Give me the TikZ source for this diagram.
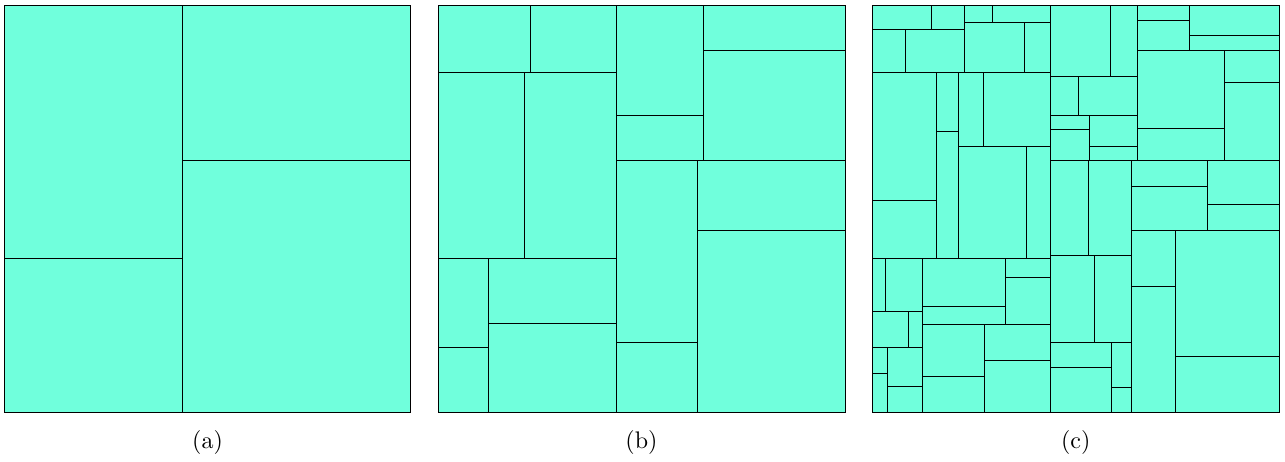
\documentclass[tikz,border=0pt]{standalone}
\usepackage{fontspec}
\newfontfamily\capfont{lmroman10-regular}[Extension=.otf]
\definecolor{aqua}{RGB}{112,255,220}
\tikzset{
  panel/.style={fill=aqua,draw=black,line width=0.8pt},
  cut/.style={draw=black,line width=0.8pt,line cap=rect},
  capstyle/.style={anchor=base,inner sep=0pt,font=\capfont\fontsize{24}{29}\selectfont}
}
\begin{document}
\begin{tikzpicture}[x=1pt,y=-1pt]
\useasboundingbox (0,0) rectangle (1285,461);
% ---------- panel (a)
\path[panel] (4.3,5.7) rectangle (410.7,412.5);
\draw[cut] (182.3,5.7)--(182.3,412.5);
\draw[cut] (4.3,258.3)--(182.3,258.3);
\draw[cut] (182.3,160)--(410.7,160);
% ---------- panel (b)
\path[panel] (438,5.7) rectangle (845,412.5);
\draw[cut] (616.7,5.7)--(616.7,412.5);
\draw[cut] (438,72.3)--(616.7,72.3);
\draw[cut] (530.3,5.7)--(530.3,72.3);
\draw[cut] (524.3,72.3)--(524.3,258.3);
\draw[cut] (438,258.3)--(616.7,258.3);
\draw[cut] (488,258.3)--(488,412.5);
\draw[cut] (438,347)--(488,347);
\draw[cut] (488,323.7)--(616.7,323.7);
\draw[cut] (616.7,160)--(845,160);
\draw[cut] (703.3,5.7)--(703.3,160);
\draw[cut] (616.7,115.7)--(703.3,115.7);
\draw[cut] (703.3,50.3)--(845,50.3);
\draw[cut] (697,160)--(697,412.5);
\draw[cut] (616.7,342)--(697,342);
\draw[cut] (697,230.3)--(845,230.3);
% ---------- panel (c)
\path[panel] (872.3,5.7) rectangle (1279.3,412.5);
\draw[cut] (1050.7,5.7)--(1050.7,412.5);
% left column
\draw[cut] (872.3,72.3)--(1050.7,72.3);
\draw[cut] (964.7,5.7)--(964.7,72.3);
\draw[cut] (872.3,29.3)--(964.7,29.3);
\draw[cut] (931.7,5.7)--(931.7,29.3);
\draw[cut] (905.3,29.3)--(905.3,72.3);
\draw[cut] (964.7,22.7)--(1050.7,22.7);
\draw[cut] (992,5.7)--(992,22.7);
\draw[cut] (1024,22.7)--(1024,72.3);
\draw[cut] (958.7,72.3)--(958.7,258.3);
\draw[cut] (936.3,72.3)--(936.3,258.3);
\draw[cut] (872.3,200.3)--(936.3,200.3);
\draw[cut] (936.3,131)--(958.7,131);
\draw[cut] (958.7,146)--(1050.7,146);
\draw[cut] (983.3,72.3)--(983.3,146);
\draw[cut] (1026.3,146)--(1026.3,258.3);
\draw[cut] (872.3,258.3)--(1050.7,258.3);
\draw[cut] (922.3,258.3)--(922.3,412.5);
\draw[cut] (872.3,347)--(922.3,347);
\draw[cut] (872.3,311.3)--(922.3,311.3);
\draw[cut] (885.7,258.3)--(885.7,311.3);
\draw[cut] (908.7,311.3)--(908.7,347);
\draw[cut] (887.7,347)--(887.7,412.5);
\draw[cut] (872.3,373.3)--(887.7,373.3);
\draw[cut] (887.7,386.3)--(922.3,386.3);
\draw[cut] (922.3,324)--(1050.7,324);
\draw[cut] (1005.7,258.3)--(1005.7,324);
\draw[cut] (922.3,306)--(1005.7,306);
\draw[cut] (1005.7,277)--(1050.7,277);
\draw[cut] (984,324)--(984,412.5);
\draw[cut] (922.3,376)--(984,376);
\draw[cut] (984,360.7)--(1050.7,360.7);
% right column
\draw[cut] (1050.7,160)--(1279.3,160);
\draw[cut] (1137.5,5.7)--(1137.5,160);
\draw[cut] (1050.7,115.7)--(1137.5,115.7);
\draw[cut] (1050.7,76.7)--(1137.5,76.7);
\draw[cut] (1110,5.7)--(1110,76.7);
\draw[cut] (1078.3,76.7)--(1078.3,115.7);
\draw[cut] (1089.3,115.7)--(1089.3,160);
\draw[cut] (1050.7,129.3)--(1089.3,129.3);
\draw[cut] (1089.3,146)--(1137.5,146);
\draw[cut] (1137.5,50.3)--(1279.3,50.3);
\draw[cut] (1189.7,5.7)--(1189.7,50.3);
\draw[cut] (1137.5,20.7)--(1189.7,20.7);
\draw[cut] (1189.7,35.7)--(1279.3,35.7);
\draw[cut] (1224.3,50.3)--(1224.3,160);
\draw[cut] (1137.5,128)--(1224.3,128);
\draw[cut] (1224.3,82.3)--(1279.3,82.3);
\draw[cut] (1131.3,160)--(1131.3,412.5);
\draw[cut] (1050.7,342.3)--(1131.3,342.3);
\draw[cut] (1050.7,255.3)--(1131.3,255.3);
\draw[cut] (1088,160)--(1088,255.3);
\draw[cut] (1094.3,255.3)--(1094.3,342.3);
\draw[cut] (1111,342.3)--(1111,412.5);
\draw[cut] (1050.7,367.3)--(1111,367.3);
\draw[cut] (1111,387.3)--(1131.3,387.3);
\draw[cut] (1131.3,230.3)--(1279.3,230.3);
\draw[cut] (1207.7,160)--(1207.7,230.3);
\draw[cut] (1131.3,186.3)--(1207.7,186.3);
\draw[cut] (1207.7,204)--(1279.3,204);
\draw[cut] (1175.7,230.3)--(1175.7,412.5);
\draw[cut] (1131.3,286.3)--(1175.7,286.3);
\draw[cut] (1175.7,356.7)--(1279.3,356.7);
% ---------- captions
\node[capstyle] (capa) at (207.5,448) {(a)};
\node[capstyle] (capb) at (641.5,448) {(b)};
\node[capstyle] (capc) at (1075.8,448) {(c)};
\end{tikzpicture}
\end{document}
